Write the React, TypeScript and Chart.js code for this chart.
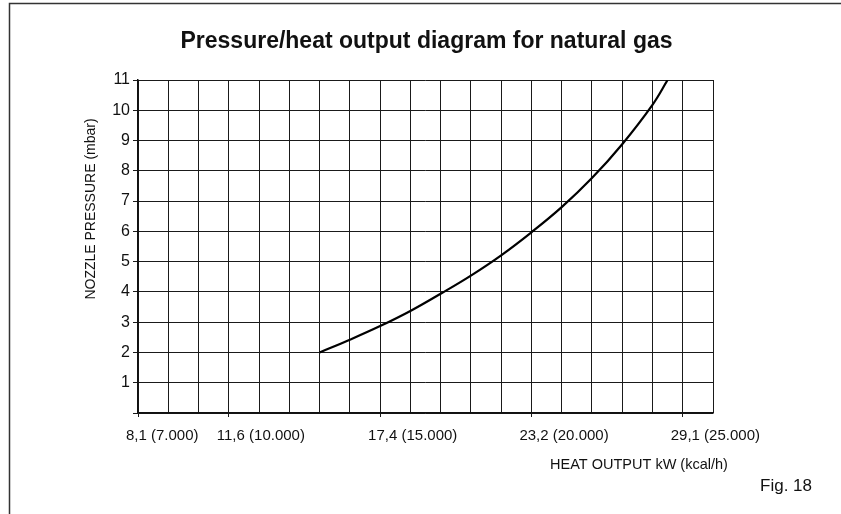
import React, { useEffect, useRef } from "react";
import { Chart, registerables } from "chart.js";

Chart.register(...registerables);

// Curve: heat output (kcal/h) vs nozzle pressure (mbar)
const heatKcal = [13000, 14000, 15000, 16000, 17000, 18000, 19000, 20000, 21000, 22000, 23000, 24000, 24500];
const pressureMbar = [2.0, 2.42, 2.87, 3.37, 3.94, 4.54, 5.21, 5.97, 6.8, 7.76, 8.88, 10.18, 11.0];

// Labelled x ticks
const xTickKcal = [7000, 10000, 15000, 20000, 25000];
const xTickKw = ["8,1", "11,6", "17,4", "23,2", "29,1"];
const xTickKcalText = ["7.000", "10.000", "15.000", "20.000", "25.000"];

const titleText = "Pressure/heat output diagram for natural gas";
const xTitle = "HEAT OUTPUT kW (kcal/h)";
const yTitle = "NOZZLE PRESSURE (mbar)";
const figText = "Fig. 18";

const FONT = "'Liberation Sans', Arial, sans-serif";

const textPlugin = {
  id: "textPlugin",
  afterDraw(chart: any) {
    const ctx = chart.ctx;
    ctx.save();
    // frame
    ctx.strokeStyle = "#333";
    ctx.lineWidth = 1.5;
    ctx.beginPath();
    ctx.moveTo(9.5, 514);
    ctx.lineTo(9.5, 3.5);
    ctx.lineTo(841, 3.5);
    ctx.stroke();

    ctx.fillStyle = "#111";
    ctx.textAlign = "center";
    ctx.textBaseline = "middle";
    ctx.font = `bold 23px ${FONT}`;
    ctx.fillText(titleText, 426.5, 42);

    ctx.font = `14.5px ${FONT}`;
    ctx.fillText(xTitle, 639, 465);

    ctx.font = `17px ${FONT}`;
    ctx.fillText(figText, 786, 486);

    ctx.font = `14px ${FONT}`;
    ctx.translate(91.5, 209);
    ctx.rotate(-Math.PI / 2);
    ctx.fillText(yTitle, 0, 0);
    ctx.restore();
  },
};

export default function App() {
  const ref = useRef<HTMLCanvasElement>(null);
  useEffect(() => {
    if (!ref.current) return;
    const chart = new Chart(ref.current, {
      type: "line",
      data: {
        datasets: [
          {
            data: heatKcal.map((x, i) => ({ x, y: pressureMbar[i] })),
            borderColor: "#000",
            borderWidth: 2.2,
            pointRadius: 0,
            tension: 0.4,
            fill: false,
          },
        ],
      },
      options: {
        responsive: false,
        animation: false,
        layout: { padding: { left: 0, right: 128, top: 80, bottom: 0 } },
        plugins: {
          legend: { display: false },
          tooltip: { enabled: false },
          title: { display: false },
        },
        scales: {
          x: {
            type: "linear",
            min: 7000,
            max: 26000,
            afterFit: (s: any) => {
              s.height = 101;
            },
            afterBuildTicks: (s: any) => {
              const t = [];
              for (let v = 7000; v <= 26000; v += 1000) t.push({ value: v });
              s.ticks = t;
            },
            grid: {
              color: "#1a1a1a",
              lineWidth: 1,
              tickLength: 4,
              tickColor: (c: any) =>
                c.tick && xTickKcal.includes(c.tick.value) ? "#1a1a1a" : "rgba(0,0,0,0)",
            },
            border: { display: true, color: "#111", width: 1.5 },
            ticks: {
              autoSkip: false,
              maxRotation: 0,
              minRotation: 0,
              align: "start",
              labelOffset: -12,
              padding: 10,
              color: "#111",
              font: { family: FONT, size: 15 },
              callback: (v: any) => {
                const i = xTickKcal.indexOf(Number(v));
                return i >= 0 ? `${xTickKw[i]} (${xTickKcalText[i]})` : "";
              },
            },
          },
          y: {
            type: "linear",
            min: 0,
            max: 11,
            afterFit: (s: any) => {
              s.width = 138;
            },
            grid: {
              color: "#1a1a1a",
              lineWidth: 1,
              tickLength: 5,
              tickColor: "#1a1a1a",
            },
            border: { display: true, color: "#111", width: 1.5 },
            ticks: {
              stepSize: 1,
              padding: 3,
              color: "#111",
              font: { family: FONT, size: 16 },
              callback: (v: any) => (Number(v) === 0 ? "" : String(v)),
            },
          },
        },
      },
      plugins: [textPlugin],
    } as any);
    return () => chart.destroy();
  }, []);
  return (
    <div style={{ position: "absolute", left: 0, top: 0, width: 841, height: 514, background: "#fff" }}>
      <canvas ref={ref} width={841} height={514} style={{ display: "block" }} />
    </div>
  );
}
